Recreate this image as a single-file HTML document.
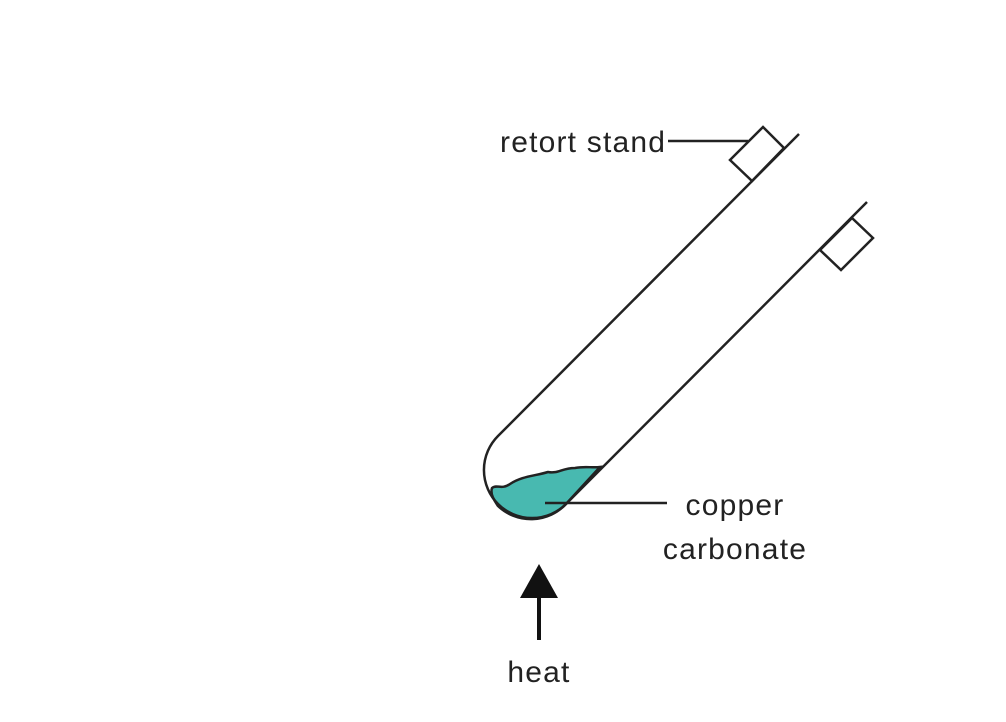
<!DOCTYPE html>
<html><head><style>body{margin:0;background:#fff}svg{display:block}text{font-family:"Liberation Sans",sans-serif;font-size:30px;letter-spacing:1.2px;fill:#222}</style></head><body>
<svg width="1006" height="722" viewBox="0 0 1006 722">
<path d="M492,488 C496,484 502,490 510,484 C522,476 535,476 548,472 C558,474 562,468 575,468 C585,466 592,468 600,467 L566,504 A48,48 0 0,1 498,506 C494,500 490,494 492,488 Z" fill="#48b9b0" stroke="#222" stroke-width="2.5"/>
<path d="M799,134 L498,436 A48,48 0 0,0 566,504 L867,202" fill="none" stroke="#222" stroke-width="2.5"/>
<polygon points="730,160 763,127 784,148 752,181" fill="#fff" stroke="#222" stroke-width="2.5"/>
<polygon points="820,250 852,218 873,238 841,270" fill="#fff" stroke="#222" stroke-width="2.5"/>
<line x1="668" y1="141" x2="748" y2="141" stroke="#222" stroke-width="2.5"/>
<line x1="545" y1="503" x2="667" y2="503" stroke="#222" stroke-width="2.5"/>
<polygon points="539,564 558,598 520,598" fill="#111"/>
<line x1="539" y1="596" x2="539" y2="640" stroke="#111" stroke-width="4"/>
<text x="500" y="152">retort stand</text>
<text x="735" y="515" text-anchor="middle">copper</text>
<text x="735" y="559" text-anchor="middle">carbonate</text>
<text x="539" y="682" text-anchor="middle">heat</text>
</svg></body></html>
